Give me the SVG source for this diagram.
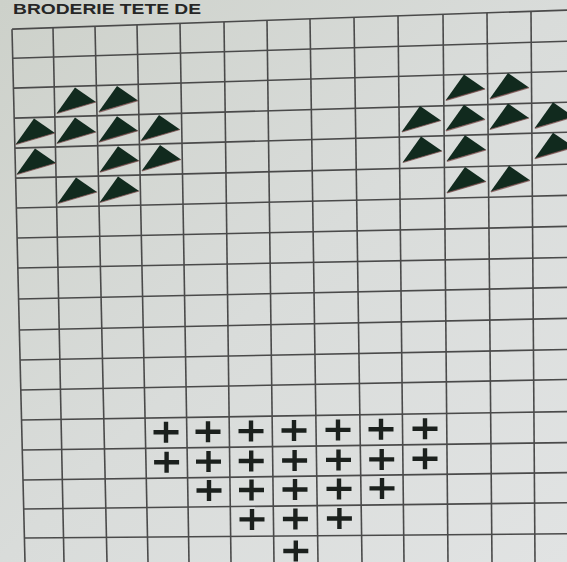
<svg xmlns="http://www.w3.org/2000/svg" width="567" height="562" viewBox="0 0 567 562">
<defs>
<linearGradient id="paper" x1="0" y1="0" x2="1" y2="1">
<stop offset="0" stop-color="#cdd1ca"/>
<stop offset="0.5" stop-color="#d9dcda"/>
<stop offset="1" stop-color="#e1e3e3"/>
</linearGradient>
<g id="tri">
<path d="M1.5,26.5 L20,0.5 L41,15 Z" fill="#112a1e"/>
<path d="M2,26.5 L41,15" stroke="#7d4d4d" stroke-width="1.3" opacity="0.75"/>
</g>
<path id="plus" d="M-12.5,0 H12.5 M0,-10.5 V10.5" stroke="#1b201d" stroke-width="4.4" fill="none"/>
</defs>
<style>
.gl line{stroke:#4a4a4a;stroke-width:1.6}
.title{font-family:"Liberation Sans",Arial,sans-serif;font-weight:bold;font-size:14px;fill:#262626}
</style>
<rect width="567" height="562" fill="url(#paper)"/>
<text class="title" x="13" y="14" textLength="188" lengthAdjust="spacingAndGlyphs">BRODERIE TETE DE</text>
<g id="grid" class="gl">
<line x1="12.1" y1="29.1" x2="567" y2="10.1"/>
<line x1="12.8" y1="58.2" x2="567" y2="41.2"/>
<line x1="13.5" y1="88.1" x2="567" y2="71.2"/>
<line x1="14.2" y1="118.1" x2="567" y2="102.2"/>
<line x1="15" y1="148.1" x2="567" y2="132.2"/>
<line x1="15.7" y1="178.1" x2="567" y2="164.3"/>
<line x1="16.4" y1="208" x2="567" y2="195.4"/>
<line x1="17.2" y1="238" x2="567" y2="226.4"/>
<line x1="17.9" y1="268" x2="567" y2="257.5"/>
<line x1="18.6" y1="299" x2="567" y2="287.4"/>
<line x1="19.4" y1="330" x2="567" y2="318.4"/>
<line x1="20.1" y1="360" x2="567" y2="349.5"/>
<line x1="20.8" y1="390" x2="567" y2="379.5"/>
<line x1="21.6" y1="420" x2="567" y2="411.6"/>
<line x1="22.3" y1="450" x2="567" y2="442.6"/>
<line x1="23" y1="480" x2="567" y2="472.6"/>
<line x1="23.7" y1="509" x2="567" y2="502.7"/>
<line x1="24.4" y1="538" x2="567" y2="533.8"/>
<line x1="12" y1="29.2" x2="25" y2="562"/>
<line x1="53" y1="27.8" x2="64" y2="562"/>
<line x1="95" y1="26.4" x2="107" y2="562"/>
<line x1="137" y1="25" x2="148" y2="562"/>
<line x1="180" y1="23.5" x2="189" y2="562"/>
<line x1="224" y1="22" x2="231" y2="562"/>
<line x1="267" y1="20.5" x2="274" y2="562"/>
<line x1="310" y1="19" x2="318" y2="562"/>
<line x1="354" y1="17.5" x2="362" y2="562"/>
<line x1="398" y1="16" x2="404" y2="562"/>
<line x1="443" y1="14.5" x2="448" y2="562"/>
<line x1="487" y1="13" x2="492" y2="562"/>
<line x1="531" y1="11.5" x2="535" y2="562"/>
</g>
<g id="motif-left">
<use href="#tri" x="55" y="87"/>
<use href="#tri" x="97" y="85.6"/>
<use href="#tri" x="14" y="118"/>
<use href="#tri" x="55" y="117"/>
<use href="#tri" x="97" y="115.7"/>
<use href="#tri" x="139" y="114.5"/>
<use href="#tri" x="15" y="148"/>
<use href="#tri" x="98" y="145.7"/>
<use href="#tri" x="140" y="144.5"/>
<use href="#tri" x="56" y="177"/>
<use href="#tri" x="98" y="176"/>
</g>
<g id="motif-right">
<use href="#tri" x="444" y="73.9"/>
<use href="#tri" x="488" y="72.6"/>
<use href="#tri" x="400" y="105.5"/>
<use href="#tri" x="444" y="104.3"/>
<use href="#tri" x="488" y="103"/>
<use href="#tri" x="533" y="101.8"/>
<use href="#tri" x="401" y="136"/>
<use href="#tri" x="445" y="134.8"/>
<use href="#tri" x="533" y="132.2"/>
<use href="#tri" x="445" y="166.4"/>
<use href="#tri" x="489" y="165.3"/>
</g>
<g id="motif-crosses">
<use href="#plus" x="166" y="432.3"/>
<use href="#plus" x="208" y="431.7"/>
<use href="#plus" x="251" y="431.1"/>
<use href="#plus" x="294" y="430.5"/>
<use href="#plus" x="338" y="429.9"/>
<use href="#plus" x="381" y="429.3"/>
<use href="#plus" x="425" y="428.7"/>
<use href="#plus" x="166.6" y="462.2"/>
<use href="#plus" x="208.5" y="461.6"/>
<use href="#plus" x="251.2" y="461"/>
<use href="#plus" x="294.6" y="460.5"/>
<use href="#plus" x="338.5" y="459.9"/>
<use href="#plus" x="381.7" y="459.4"/>
<use href="#plus" x="425" y="458.8"/>
<use href="#plus" x="209" y="490.5"/>
<use href="#plus" x="251.5" y="490"/>
<use href="#plus" x="295" y="489.5"/>
<use href="#plus" x="339" y="488.9"/>
<use href="#plus" x="382" y="488.4"/>
<use href="#plus" x="252" y="519.4"/>
<use href="#plus" x="295.4" y="519"/>
<use href="#plus" x="339.4" y="518.5"/>
<use href="#plus" x="295.8" y="551"/>
</g>
</svg>
